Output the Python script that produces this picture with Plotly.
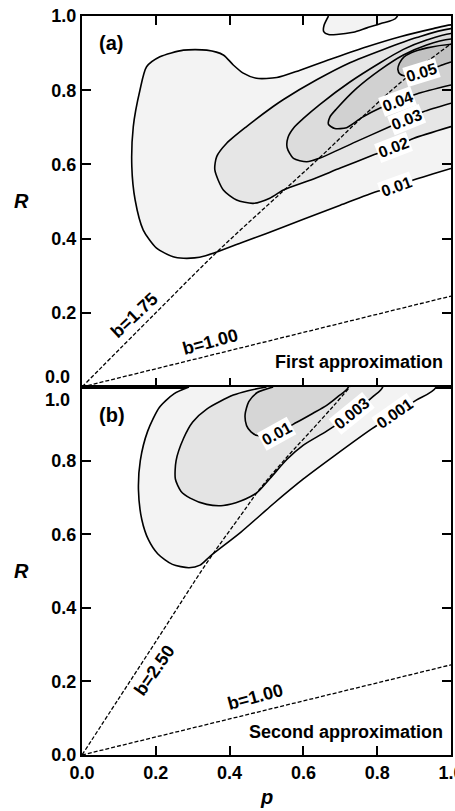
import plotly.graph_objects as go
from plotly.subplots import make_subplots

# ---------------- Panel (a): first approximation ----------------
A_LEVEL_TEXT = ["0.01", "0.02", "0.03", "0.04", "0.05"]
A_FILLS = ["#f3f3f3", "#e6e6e6", "#dcdcdc", "#d1d1d1", "#c2c2c2"]

A01_P = [1.0, 0.95, 0.898, 0.853, 0.799, 0.70, 0.60, 0.50, 0.43, 0.369, 0.335, 0.305, 0.275,
         0.247, 0.202, 0.166, 0.144, 0.135, 0.139, 0.157, 0.175, 0.211, 0.275, 0.338, 0.383,
         0.41, 0.437, 0.473, 0.528, 0.591, 0.681, 0.772, 0.862, 0.952, 1.0]
A01_R = [0.589, 0.574, 0.558, 0.540, 0.527, 0.490, 0.452, 0.414, 0.388, 0.365, 0.354, 0.348, 0.347,
         0.351, 0.374, 0.423, 0.504, 0.594, 0.702, 0.80, 0.863, 0.89, 0.908, 0.908, 0.895,
         0.868, 0.846, 0.832, 0.834, 0.854, 0.886, 0.917, 0.944, 0.966, 0.976]

A02_P = [1.0, 0.898, 0.844, 0.789, 0.70, 0.62, 0.546, 0.509, 0.464, 0.419, 0.383, 0.360, 0.365,
         0.392, 0.446, 0.518, 0.546, 0.636, 0.726, 0.817, 0.907, 1.0]
A02_R = [0.702, 0.670, 0.646, 0.625, 0.590, 0.558, 0.531, 0.509, 0.495, 0.504, 0.531, 0.585, 0.621,
         0.657, 0.702, 0.756, 0.775, 0.828, 0.874, 0.91, 0.942, 0.966]

A03_P = [1.0, 0.925, 0.88, 0.835, 0.74, 0.645, 0.609, 0.573, 0.556, 0.558, 0.575, 0.60, 0.645,
         0.726, 0.808, 0.871, 0.934, 1.0]
A03_R = [0.765, 0.742, 0.722, 0.702, 0.660, 0.617, 0.607, 0.616, 0.645, 0.672, 0.700, 0.724, 0.762,
         0.822, 0.874, 0.91, 0.935, 0.953]

A04_P = [1.0, 0.907, 0.855, 0.808, 0.758, 0.717, 0.685, 0.668, 0.672, 0.69, 0.744, 0.808, 0.871,
         0.934, 1.0]
A04_R = [0.814, 0.790, 0.770, 0.752, 0.726, 0.699, 0.697, 0.708, 0.728, 0.750, 0.805, 0.855, 0.895,
         0.922, 0.938]

A05_P = [1.0, 0.976, 0.93, 0.883, 0.862, 0.856, 0.86, 0.872, 0.892, 0.935, 1.0]
A05_R = [0.876, 0.868, 0.850, 0.838, 0.843, 0.856, 0.872, 0.889, 0.901, 0.914, 0.924]

# small lobe touching the top edge (level 0.01)
ALOBE_P = [0.668, 0.656, 0.655, 0.668, 0.69, 0.735, 0.772, 0.81, 0.853]
ALOBE_R = [1.0, 0.975, 0.958, 0.950, 0.950, 0.956, 0.968, 0.980, 0.997]

# contour label positions (p, R) and angles
A_LAB_P = [0.853, 0.844, 0.880, 0.855, 0.920]
A_LAB_R = [0.540, 0.646, 0.722, 0.770, 0.848]
A_LAB_ANG = [-20, -21, -22, -20, -17]

# b lines
A_B175_P = [0.0, 0.2, 0.369, 0.546, 0.645, 0.758, 0.871, 1.0]
A_B175_R = [0.0, 0.2, 0.367, 0.529, 0.619, 0.726, 0.827, 0.925]
A_B100_P = [0.0, 1.0]
A_B100_R = [0.0, 0.245]

# ---------------- Panel (b): second approximation ----------------
B_LEVEL_TEXT = ["0.001", "0.003", "0.01"]
B_FILLS = ["#f3f3f3", "#e4e4e4", "#d6d6d6"]

B001_P = [0.29, 0.25, 0.21, 0.178, 0.158, 0.153, 0.162, 0.18, 0.205, 0.245, 0.29, 0.32, 0.347,
          0.43, 0.518, 0.60, 0.68, 0.785, 0.848, 0.907, 0.96]
B001_R = [1.0, 0.982, 0.945, 0.88, 0.80, 0.72, 0.64, 0.585, 0.547, 0.518, 0.509, 0.516, 0.54,
          0.605, 0.682, 0.750, 0.810, 0.886, 0.927, 0.965, 1.0]

B003_P = [0.50, 0.45, 0.41, 0.338, 0.30, 0.275, 0.255, 0.253, 0.268, 0.293, 0.338, 0.383, 0.43,
          0.473, 0.51, 0.555, 0.60, 0.663, 0.731, 0.79, 0.815]
B003_R = [1.0, 0.99, 0.978, 0.94, 0.905, 0.86, 0.80, 0.75, 0.717, 0.698, 0.681, 0.678, 0.69,
          0.712, 0.752, 0.803, 0.842, 0.880, 0.927, 0.975, 1.0]

B010_P = [0.518, 0.475, 0.452, 0.442, 0.446, 0.458, 0.475, 0.528, 0.582, 0.625, 0.663, 0.695, 0.722]
B010_R = [1.0, 0.985, 0.96, 0.925, 0.895, 0.878, 0.868, 0.876, 0.904, 0.928, 0.95, 0.975, 1.0]

B_LAB_P = [0.848, 0.731, 0.528]
B_LAB_R = [0.927, 0.927, 0.874]
B_LAB_ANG = [-35, -39, -29]

B_B250_P = [0.0, 0.1, 0.2, 0.341, 0.433, 0.482, 0.555, 0.618, 0.681, 0.726]
B_B250_R = [0.0, 0.154, 0.308, 0.526, 0.655, 0.723, 0.809, 0.878, 0.948, 1.0]
B_B100_P = [0.0, 1.0]
B_B100_R = [0.0, 0.245]

TICKS = [0.0, 0.2, 0.4, 0.6, 0.8, 1.0]
TICK_TEXT = ["0.0", "0.2", "0.4", "0.6", "0.8", "1.0"]

FONT = "Liberation Sans, Arial, Helvetica, sans-serif"

fig = make_subplots(rows=2, cols=1, vertical_spacing=0)


def region(ps, rs, fill, row, close):
    ps = list(ps)
    rs = list(rs)
    if close == "right":
        ps += [1.6, 1.6]
        rs += [rs[-1], rs[0]]
    else:  # top
        ps += [ps[-1], ps[0]]
        rs += [1.6, 1.6]
    fig.add_trace(go.Scatter(x=ps, y=rs, mode="lines", fill="toself", fillcolor=fill,
                             line=dict(color="black", width=1.6, shape="spline", smoothing=0.7),
                             hoverinfo="skip"), row=row, col=1)


# panel a regions
for ps, rs, fc in zip([A01_P, A02_P, A03_P, A04_P, A05_P],
                      [A01_R, A02_R, A03_R, A04_R, A05_R], A_FILLS):
    region(ps, rs, fc, 1, "right")
region(ALOBE_P, ALOBE_R, A_FILLS[0], 1, "top")

# panel b regions
for ps, rs, fc in zip([B001_P, B003_P, B010_P], [B001_R, B003_R, B010_R], B_FILLS):
    region(ps, rs, fc, 2, "top")

# b lines
for ps, rs, row in [(A_B175_P, A_B175_R, 1), (A_B100_P, A_B100_R, 1),
                    (B_B250_P, B_B250_R, 2), (B_B100_P, B_B100_R, 2)]:
    fig.add_trace(go.Scatter(x=ps, y=rs, mode="lines",
                             line=dict(color="black", width=1.3, dash="4px,2px", shape="spline"),
                             hoverinfo="skip"), row=row, col=1)

ann = []
lab_font = dict(family=FONT, size=16, color="black", weight="bold")
for t, p, r, a in zip(A_LEVEL_TEXT, A_LAB_P, A_LAB_R, A_LAB_ANG):
    ann.append(dict(x=p, y=r, xref="x", yref="y", text=t, textangle=a, showarrow=False,
                    font=lab_font, bgcolor="white", borderpad=1))
for t, p, r, a in zip(B_LEVEL_TEXT, B_LAB_P, B_LAB_R, B_LAB_ANG):
    ann.append(dict(x=p, y=r, xref="x2", yref="y2", text=t, textangle=a, showarrow=False,
                    font=lab_font, bgcolor="white", borderpad=1))

txt_font = dict(family=FONT, size=18, color="black", weight="bold")
big_font = dict(family=FONT, size=20, color="black", weight="bold")
tick_font = dict(family=FONT, size=18, color="black", weight="bold")
ann += [
    dict(x=0.143, y=0.194, xref="x", yref="y", text="b=1.75", textangle=-43, showarrow=False, font=txt_font),
    dict(x=0.347, y=0.122, xref="x", yref="y", text="b=1.00", textangle=-15, showarrow=False, font=txt_font),
    dict(x=0.197, y=0.231, xref="x2", yref="y2", text="b=2.50", textangle=-55, showarrow=False, font=txt_font),
    dict(x=0.469, y=0.157, xref="x2", yref="y2", text="b=1.00", textangle=-15, showarrow=False, font=txt_font),
    dict(x=0.984, y=0.068, xref="x", yref="y", text="First approximation", xanchor="right",
         showarrow=False, font=txt_font),
    dict(x=0.984, y=0.062, xref="x2", yref="y2", text="Second approximation", xanchor="right",
         showarrow=False, font=txt_font),
    dict(x=0.079, y=0.927, xref="x", yref="y", text="(a)", showarrow=False, font=big_font),
    dict(x=0.080, y=0.925, xref="x2", yref="y2", text="(b)", showarrow=False, font=big_font),
    # shifted end tick labels at the shared boundary
    dict(x=-0.027, y=0.0, xref="paper", yref="y", yshift=10, text=TICK_TEXT[0], xanchor="right",
         showarrow=False, font=tick_font),
    dict(x=-0.027, y=1.0, xref="paper", yref="y2", yshift=-13, text=TICK_TEXT[-1], xanchor="right",
         showarrow=False, font=tick_font),
    # axis titles
    dict(x=-0.19, y=0.5, xref="paper", yref="y domain", text="<b><i>R</i></b>", showarrow=False,
         font=dict(family=FONT, size=20, color="black")),
    dict(x=-0.19, y=0.5, xref="paper", yref="y2 domain", text="<b><i>R</i></b>", showarrow=False,
         font=dict(family=FONT, size=20, color="black")),
    dict(x=0.5, y=-0.074, xref="x2 domain", yref="paper", text="<b><i>p</i></b>", showarrow=False,
         font=dict(family=FONT, size=20, color="black")),
]

common = dict(range=[0, 1], tickvals=TICKS, ticks="inside", ticklen=9, tickwidth=1.5,
              tickcolor="black", showline=True, linewidth=2, linecolor="black",
              showgrid=False, zeroline=False, tickfont=tick_font,
              ticklabeloverflow="allow", automargin=False)

fig.update_layout(
    width=455, height=811,
    margin=dict(l=82, r=4, t=16, b=56, autoexpand=False),
    paper_bgcolor="white", plot_bgcolor="white",
    showlegend=False,
    annotations=ann,
    xaxis=dict(common, domain=[0, 1], mirror="ticks", showticklabels=False, anchor="y"),
    xaxis2=dict(common, domain=[0, 1], mirror=True, ticktext=TICK_TEXT, anchor="y2"),
    yaxis=dict(common, domain=[0.498, 1.0], mirror="ticks",
               ticktext=[""] + TICK_TEXT[1:], anchor="x"),
    yaxis2=dict(common, domain=[0.0, 0.498], mirror="ticks",
                ticktext=TICK_TEXT[:-1] + [""], anchor="x2"),
)

fig.write_html(
    "out.html",
    config={"displayModeBar": False},
    post_script=("document.documentElement.style.margin='0px';"
                 "document.documentElement.style.overflow='hidden';"
                 "document.body.style.margin='0px';"
                 "document.body.style.overflow='hidden';"),
)
